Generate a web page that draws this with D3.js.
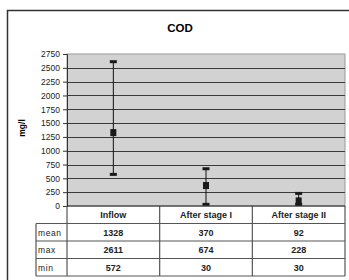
<!DOCTYPE html>
<html>
<head>
<meta charset="utf-8">
<script src="https://cdn.jsdelivr.net/npm/d3@7"></script>
<style>
  body { margin: 0; background: #fff; }
  svg { display: block; font-family: "Liberation Sans", Arial, sans-serif; }
</style>
</head>
<body>
<svg id="chart" width="349" height="280"></svg>
<script>
// Data
const categories = ["Inflow", "After stage I", "After stage II"];
const meanValues = [1328, 370, 92];
const maxValues = [2611, 674, 228];
const minValues = [572, 30, 30];
const rowLabels = ["mean", "max", "min"];
const yTicks = [0, 250, 500, 750, 1000, 1250, 1500, 1750, 2000, 2250, 2500, 2750];

const svg = d3.select("#chart");

// Plot area
const plot = { left: 67, right: 345, top: 54, bottom: 206 };

const x = d3.scaleBand()
  .domain(categories)
  .range([plot.left, plot.right]);

const y = d3.scaleLinear()
  .domain([0, 2750])
  .range([plot.bottom, plot.top]);

// Outer border (runs off the image to the right and bottom)
svg.append("rect")
  .attr("x", 7.5)
  .attr("y", 10.5)
  .attr("width", 360)
  .attr("height", 290)
  .attr("fill", "none")
  .attr("stroke", "#333")
  .attr("stroke-width", 1.5);

// Title
svg.append("text")
  .attr("x", 180)
  .attr("y", 32)
  .attr("text-anchor", "middle")
  .attr("font-size", "11.5px")
  .attr("font-weight", "bold")
  .text("COD");

// Plot background
svg.append("rect")
  .attr("x", plot.left)
  .attr("y", plot.top)
  .attr("width", plot.right - plot.left)
  .attr("height", plot.bottom - plot.top)
  .attr("fill", "#d2d2d2")
  .attr("stroke", "#999")
  .attr("stroke-width", 1);

// Gridlines
svg.append("g")
  .selectAll("line")
  .data(yTicks.filter(d => d > 0 && d < 2750))
  .enter()
  .append("line")
  .attr("x1", plot.left)
  .attr("x2", plot.right)
  .attr("y1", d => Math.round(y(d)) + 0.5)
  .attr("y2", d => Math.round(y(d)) + 0.5)
  .attr("stroke", "#3a3a3a")
  .attr("stroke-width", 1);

// Y axis
const yAxis = svg.append("g")
  .attr("transform", `translate(${plot.left},0)`)
  .call(d3.axisLeft(y).tickValues(yTicks).tickFormat(d3.format("d")).tickSize(4).tickPadding(3));

yAxis.select(".domain").attr("stroke", "#333");
yAxis.selectAll(".tick line").attr("stroke", "#333");
yAxis.selectAll(".tick text")
  .attr("font-size", "8.5px")
  .attr("font-family", "'Liberation Sans', Arial, sans-serif")
  .attr("fill", "#222");

// Y axis label
svg.append("text")
  .attr("transform", "translate(25,128) rotate(-90)")
  .attr("text-anchor", "middle")
  .attr("font-size", "8.5px")
  .attr("font-weight", "bold")
  .text("mg/l");

// Error bars
const bars = svg.append("g")
  .selectAll("g")
  .data(categories.map((c, i) => ({ cat: c, mean: meanValues[i], max: maxValues[i], min: minValues[i] })))
  .enter()
  .append("g");

bars.append("line")
  .attr("x1", d => x(d.cat) + x.bandwidth() / 2)
  .attr("x2", d => x(d.cat) + x.bandwidth() / 2)
  .attr("y1", d => y(d.max))
  .attr("y2", d => y(d.min))
  .attr("stroke", "#111")
  .attr("stroke-width", 1);

bars.selectAll(".cap")
  .data(d => [d.max, d.min].map(v => ({ cat: d.cat, v: v })))
  .enter()
  .append("rect")
  .attr("class", "cap")
  .attr("x", d => x(d.cat) + x.bandwidth() / 2 - 3.5)
  .attr("y", d => y(d.v) - 1.5)
  .attr("width", 7)
  .attr("height", 3)
  .attr("fill", "#1a1a1a");

bars.append("rect")
  .attr("x", d => x(d.cat) + x.bandwidth() / 2 - 3)
  .attr("y", d => y(d.mean) - 3.5)
  .attr("width", 6)
  .attr("height", 7)
  .attr("fill", "#1a1a1a");

// Data table
const rowH = 17.5;
const headerTop = plot.bottom;
const tableLeft = 36;
const tableBottom = headerTop + rowH * 4;
const grid = svg.append("g")
  .attr("stroke", "#555")
  .attr("stroke-width", 1.2);

// horizontal lines
[1, 2, 3, 4].forEach(i => {
  grid.append("line")
    .attr("x1", tableLeft)
    .attr("x2", plot.right)
    .attr("y1", headerTop + rowH * i)
    .attr("y2", headerTop + rowH * i);
});
// vertical lines
grid.append("line")
  .attr("x1", tableLeft).attr("x2", tableLeft)
  .attr("y1", headerTop + rowH).attr("y2", tableBottom);
[plot.left].concat(categories.map(c => x(c) + x.bandwidth())).forEach(xv => {
  grid.append("line")
    .attr("x1", xv).attr("x2", xv)
    .attr("y1", headerTop).attr("y2", tableBottom);
});
// axis baseline on top of table
svg.append("line")
  .attr("x1", plot.left).attr("x2", plot.right)
  .attr("y1", plot.bottom).attr("y2", plot.bottom)
  .attr("stroke", "#222")
  .attr("stroke-width", 1.2);

// header text
svg.append("g")
  .selectAll("text")
  .data(categories)
  .enter()
  .append("text")
  .attr("x", d => x(d) + x.bandwidth() / 2)
  .attr("y", headerTop + rowH / 2 + 3.5)
  .attr("text-anchor", "middle")
  .attr("font-size", "9px")
  .attr("font-weight", "bold")
  .attr("fill", "#222")
  .text(d => d);

// row labels and values
const rows = [meanValues, maxValues, minValues];
rows.forEach((vals, r) => {
  const cy = headerTop + rowH * (r + 1) + rowH / 2 + 3.5;
  svg.append("text")
    .attr("x", tableLeft + 2)
    .attr("y", cy)
    .attr("font-size", "8.5px")
    .attr("letter-spacing", "0.6px")
    .attr("fill", "#222")
    .text(rowLabels[r]);
  svg.append("g")
    .selectAll("text")
    .data(vals)
    .enter()
    .append("text")
    .attr("x", (d, i) => x(categories[i]) + x.bandwidth() / 2)
    .attr("y", cy)
    .attr("text-anchor", "middle")
    .attr("font-size", "9px")
    .attr("font-weight", "bold")
    .attr("fill", "#222")
    .text(d => d);
});
</script>
</body>
</html>
